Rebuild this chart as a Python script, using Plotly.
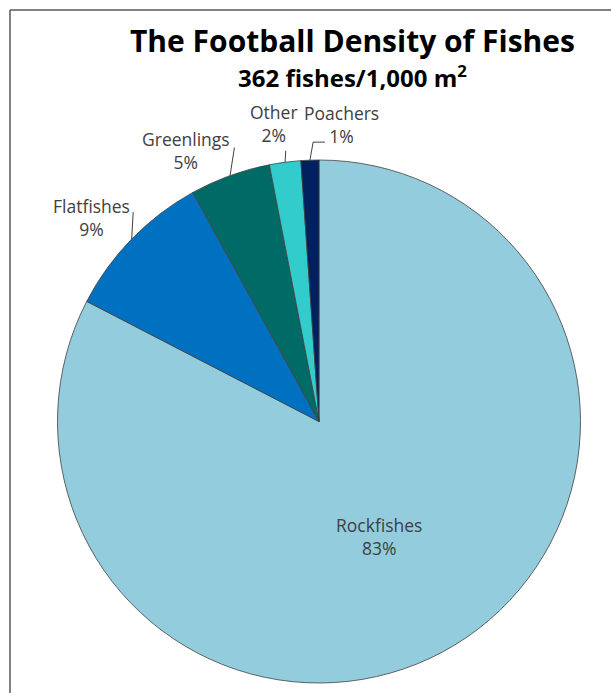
import math
import plotly.graph_objects as go

# ---- data ----
categories = ["Rockfishes", "Flatfishes", "Greenlings", "Other", "Poachers"]
densities = [299, 34, 18, 7, 4]          # fishes / 1,000 m2 (total 362)
colors = ["#93CDDD", "#0070C0", "#006B66", "#33CCCC", "#002060"]
title_text = "The Football Density of Fishes"
subtitle_text = "362 fishes/1,000 m<sup>2</sup>"

# ---- layout geometry (pixels) ----
W, H = 611, 693
CX, CY, R = 319, 421.5, 261.5

def px(x):
    return x / W

def py(y):
    return 1 - y / H

total = sum(densities)
fig = go.Figure(go.Pie(
    labels=categories, values=densities, sort=False, direction="clockwise",
    rotation=0, textinfo="none", hoverinfo="label+percent",
    marker=dict(colors=colors, line=dict(color="#404040", width=0.8)),
    domain=dict(x=[px(CX - R), px(CX + R)], y=[py(CY + R), py(CY - R)]),
    showlegend=False,
))

# label placement style: offsets (px) from the slice's mid-angle edge point
label_style = {
    "Flatfishes": dict(leader=[(1.5, -27)], text=(-40, -22)),
    "Greenlings": dict(leader=[(4.4, -28)], text=(-44, -25)),
    "Other": dict(leader=[(0.7, -11.5)], text=(-11, -38.5)),
    "Poachers": dict(leader=[(3.2, -18), (15, -18)], text=(32, -36)),
}

annotations = []
shapes = []
font_lbl = dict(family="Open Sans", size=17.5, color="#404040")
cum = 0
for cat, v in zip(categories, densities):
    mid = (cum + v / 2) / total * 2 * math.pi
    cum += v
    pct = f"{round(v / total * 100)}%"
    if cat in label_style:
        ex = CX + R * math.sin(mid)
        ey = CY - R * math.cos(mid)
        st = label_style[cat]
        pts = [(ex, ey)] + [(ex + dx, ey + dy) for dx, dy in st["leader"]]
        path = "M " + " L ".join(f"{px(a):.5f},{py(b):.5f}" for a, b in pts)
        shapes.append(dict(type="path", xref="paper", yref="paper", path=path,
                           line=dict(color="#404040", width=1)))
        tx, ty = ex + st["text"][0], ey + st["text"][1]
    else:
        tx = CX + 0.5 * R * math.sin(mid) - 8
        ty = CY - 0.5 * R * math.cos(mid) + 3
    annotations.append(dict(x=px(tx), y=py(ty), xref="paper", yref="paper",
                            text=f"{cat}<br>{pct}", showarrow=False,
                            xanchor="center", yanchor="middle", align="center",
                            font=font_lbl))

annotations.append(dict(x=px(352), y=py(40), xref="paper", yref="paper",
                        text=f"<b>{title_text}</b>", showarrow=False,
                        xanchor="center", yanchor="middle",
                        font=dict(family="Open Sans", size=30, color="#000000")))
annotations.append(dict(x=px(352), y=py(76), xref="paper", yref="paper",
                        text=f"<b>{subtitle_text}</b>", showarrow=False,
                        xanchor="center", yanchor="middle",
                        font=dict(family="Open Sans", size=24, color="#000000")))

# chart-area border (left and top edges visible)
shapes.append(dict(type="line", xref="paper", yref="paper",
                   x0=px(10), x1=px(10), y0=py(10), y1=py(H + 5),
                   line=dict(color="#595959", width=1.5)))
shapes.append(dict(type="line", xref="paper", yref="paper",
                   x0=px(10), x1=px(W + 5), y0=py(10), y1=py(10),
                   line=dict(color="#595959", width=1.5)))

fig.update_layout(width=W, height=H, margin=dict(l=0, r=0, t=0, b=0),
                  paper_bgcolor="white", plot_bgcolor="white",
                  annotations=annotations, shapes=shapes)

fig.write_html("out.html")
